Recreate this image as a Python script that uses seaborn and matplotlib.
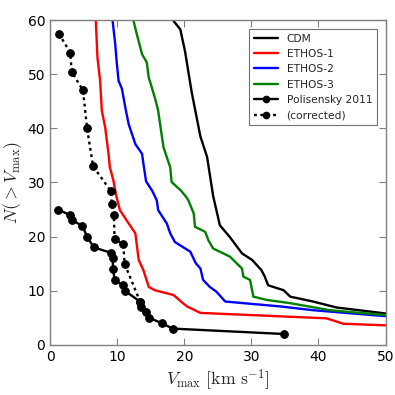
import numpy as np
import pandas as pd
import matplotlib
matplotlib.use("Agg")
import matplotlib.pyplot as plt
import seaborn as sns
from matplotlib.lines import Line2D

sns.set_style("white")
plt.rcParams['font.family'] = ['DejaVu Sans']
plt.rcParams['mathtext.fontset'] = 'cm'

# ---- data ----
cdm_v = [18.3, 19.4, 20.1, 21.1, 22.4, 23.4, 24.3, 25.3, 26.8, 28.6, 30.1, 31.5, 32.0, 32.5, 34.8, 35.8, 39.2, 42.7, 50.0]
cdm_n = [60, 58.3, 54.3, 46.7, 38.5, 34.7, 27.5, 22.1, 19.9, 16.9, 15.7, 13.8, 12.6, 11.0, 10.1, 8.9, 8.0, 6.9, 5.8]

e1_v = [6.8, 7.05, 7.45, 7.7, 8.2, 8.7, 8.9, 9.4, 9.9, 10.4, 11.4, 12.7, 13.2, 13.9, 14.7, 15.6, 18.4, 19.6, 20.4, 22.4, 41.2, 43.7, 50.0]
e1_n = [60, 53.1, 48.8, 43.3, 40.2, 35.3, 32.8, 30.5, 27.3, 24.9, 23.0, 20.6, 15.7, 13.8, 10.7, 10.1, 9.2, 7.9, 7.1, 5.9, 4.9, 3.9, 3.6]

e2_v = [9.3, 9.7, 9.9, 10.2, 10.7, 11.2, 11.7, 12.7, 13.7, 13.9, 14.3, 15.2, 15.9, 16.1, 17.4, 17.9, 18.6, 20.9, 21.7, 22.4, 22.8, 23.8, 24.8, 26.1, 34.3, 39.2, 50.0]
e2_n = [60, 55.6, 52.5, 48.8, 47.3, 43.9, 40.8, 37.1, 35.3, 33.5, 30.2, 28.5, 26.7, 24.9, 22.4, 20.6, 19.0, 17.2, 15.1, 14.1, 12.0, 10.7, 9.8, 8.0, 7.1, 6.4, 5.3]

e3_v = [12.4, 12.9, 13.7, 14.4, 14.7, 15.6, 16.1, 16.6, 16.9, 17.9, 18.1, 19.5, 20.3, 20.6, 21.4, 21.6, 23.1, 23.6, 24.3, 26.8, 28.6, 28.8, 29.8, 30.3, 32.3, 35.8, 41.7, 50.0]
e3_n = [60, 57.5, 53.7, 52.2, 49.4, 45.7, 43.3, 39.0, 36.5, 32.8, 30.1, 28.5, 27.3, 26.7, 24.3, 21.8, 20.9, 19.3, 17.8, 16.3, 14.1, 12.6, 12.0, 8.9, 8.3, 7.7, 6.4, 5.5]

pol_v = [1.2, 2.9, 3.3, 4.8, 5.5, 6.5, 9.1, 9.3, 9.4, 9.6, 10.8, 11.1, 13.4, 13.6, 14.3, 14.8, 16.6, 18.3, 34.9]
pol_n = [25, 24, 23, 22, 20, 18, 17, 16, 14, 12, 11, 10, 8, 7, 6, 5, 4, 3, 2]

cor_v = [1.3, 3.0, 3.2, 4.9, 5.5, 6.4, 9.0, 9.2, 9.5, 9.6, 10.9, 11.1, 13.4]
cor_n = [57.5, 54, 50.5, 47, 40, 33, 28.5, 26, 24, 19.5, 18.6, 15, 8]

sims = [("CDM", cdm_v, cdm_n, "black"),
        ("ETHOS-1", e1_v, e1_n, "red"),
        ("ETHOS-2", e2_v, e2_n, "blue"),
        ("ETHOS-3", e3_v, e3_n, "green")]

fig = plt.figure(figsize=(3.95, 3.95), dpi=100)
ax = fig.add_axes([0.127, 0.127, 0.849, 0.822])

lw = 1.7
for name, v, n, c in sims:
    df = pd.DataFrame({"v": v, "n": n})
    sns.lineplot(data=df, x="v", y="n", sort=False, estimator=None, color=c, lw=lw, ax=ax)

dfp = pd.DataFrame({"v": pol_v, "n": pol_n})
sns.lineplot(data=dfp, x="v", y="n", sort=False, estimator=None, color="black", lw=lw,
             marker="o", markersize=5.5, markeredgecolor="black", ax=ax)
dfc = pd.DataFrame({"v": cor_v, "n": cor_n})
sns.lineplot(data=dfc, x="v", y="n", sort=False, estimator=None, color="black", lw=lw,
             marker="o", markersize=5.5, markeredgecolor="black", dashes=False, ax=ax)
ax.lines[-1].set_linestyle((0, (1.2, 1.5)))

ax.set_xlim(0, 50)
ax.set_ylim(0, 60)
ax.set_xticks([0, 10, 20, 30, 40, 50])
ax.set_yticks([0, 10, 20, 30, 40, 50, 60])
ax.tick_params(direction="in", length=5, width=0.8, top=True, right=True,
               bottom=True, left=True, labelsize=10, colors="0.5", labelcolor="black")
for s in ax.spines.values():
    s.set_color("0.5")
    s.set_linewidth(1.0)

ax.set_xlabel(r"$V_{\rm max}\ [{\rm km\ s^{-1}}]$", fontsize=12.8, labelpad=3)
ax.set_ylabel(r"$N(>V_{\rm max})$", fontsize=12.8, labelpad=3)

handles = [Line2D([], [], color=c, lw=lw) for _, _, _, c in sims]
handles.append(Line2D([], [], color="black", lw=lw, marker="o", markersize=4.5))
handles.append(Line2D([], [], color="black", lw=lw, ls=(0, (1.2, 1.5)), marker="o", markersize=4.5))
labels = ["CDM", "ETHOS-1", "ETHOS-2", "ETHOS-3", "Polisensky 2011", "(corrected)"]
leg = ax.legend(handles, labels, loc="upper right", fontsize=7.7, fancybox=False,
                frameon=True, edgecolor="0.3", handlelength=2.25, borderaxespad=0.8,
                labelspacing=0.5, handletextpad=0.8, borderpad=0.45)
leg.get_frame().set_linewidth(0.8)

fig.savefig("out.png", dpi=100)
